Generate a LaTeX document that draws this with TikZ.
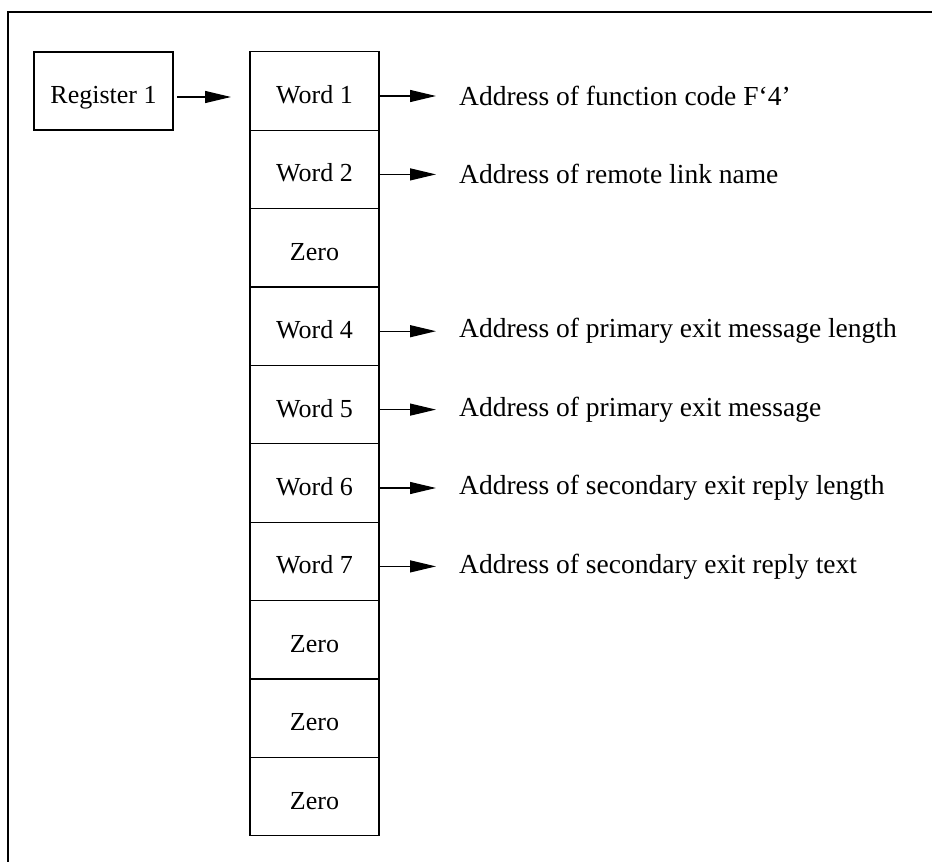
\documentclass[tikz,border=0pt]{standalone}
\usepackage{fontspec}
\setmainfont{Liberation Serif}
\usetikzlibrary{arrows.meta,positioning}

\begin{document}
\begin{tikzpicture}[x=1pt,y=-1pt,>={Triangle[length=26pt,width=12pt]}]

% ---------- styles ----------
\tikzset{
  cell/.style={draw, line width=1.3pt, outer sep=0pt, inner sep=0pt,
    minimum width=129pt, minimum height=78.4pt, text height=25pt, text depth=0pt,
    font=\fontsize{26}{28}\selectfont},
  regbox/.style={draw, line width=1.3pt, outer sep=0pt, inner sep=0pt,
    minimum width=139pt, minimum height=78pt, text height=25pt, text depth=0pt,
    font=\fontsize{26}{28}\selectfont},
  addr/.style={inner sep=0pt, anchor=west, font=\fontsize{27.5}{29}\selectfont},
  link/.style={->, line width=1.2pt}
}

\useasboundingbox (0,0) rectangle (932,862);

% ---------- frame ----------
\draw[line width=1.6pt] (8,862) -- (8,12) -- (932,12);

% ---------- register ----------
\node[regbox] (reg) at (103.5,91) {Register 1};

% ---------- parameter list ----------
\node[cell] (w1) at (314.5,91) {Word 1};
\foreach \i/\txt [remember=\i as \j (initially 1)] in
  {2/Word 2, 3/Zero, 4/Word 4, 5/Word 5, 6/Word 6, 7/Word 7, 8/Zero, 9/Zero, 10/Zero}
  \node[cell, below=0pt of w\j] (w\i) {\txt};

% register points at the list
\draw[link, shorten <=4pt, shorten >=19pt]
  ([yshift=-6pt]reg.east) -- ([yshift=-6pt]w1.west);

% ---------- addresses ----------
\foreach \i/\txt in {1/Address of function code F`4',
                     2/Address of remote link name,
                     4/Address of primary exit message length,
                     5/Address of primary exit message,
                     6/Address of secondary exit reply length,
                     7/Address of secondary exit reply text}
{
  \node[addr, right=80pt of w\i.east, yshift=-5pt] (a\i) {\txt};
  \draw[link, shorten <=1pt, shorten >=23pt] ([yshift=-5pt]w\i.east) -- (a\i.west);
}

\end{tikzpicture}
\end{document}
